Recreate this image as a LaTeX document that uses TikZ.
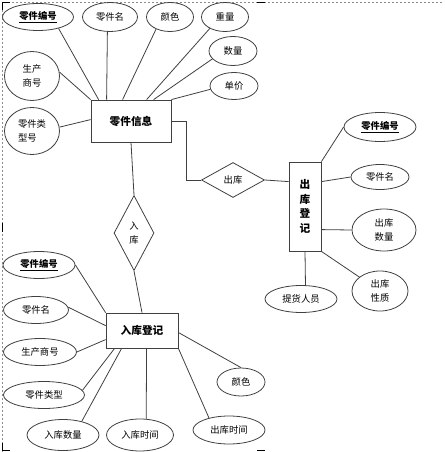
\documentclass[tikz,border=0pt]{standalone}
\usepackage{fontspec}
\setmainfont{Noto Sans CJK SC}
\usetikzlibrary{shapes.geometric,calc}
\begin{document}
\begin{tikzpicture}[x=0.75pt,y=-0.75pt,
  conn/.style={draw=black!75,line width=0.6pt},
  ell/.style 2 args={ellipse,draw=black!75,line width=0.6pt,minimum width=#1*0.75pt,minimum height=#2*0.75pt,inner sep=0pt,font=\fontsize{7pt}{9pt}\selectfont},
  ent/.style 2 args={rectangle,draw=black!75,line width=0.6pt,minimum width=#1*0.75pt,minimum height=#2*0.75pt,inner sep=0pt,font=\bfseries\fontsize{8pt}{11pt}\selectfont},
  rel/.style 2 args={diamond,draw=black!75,line width=0.6pt,minimum width=#1*0.75pt,minimum height=#2*0.75pt,inner sep=0pt,font=\fontsize{7pt}{11pt}\selectfont},
  handle/.style={draw=black,line width=1.2pt},
  frame/.style={draw=black!45,line width=0.4pt,dash pattern=on 1.5pt off 1.5pt}]
\useasboundingbox (0,0) rectangle (444,452);
% frame
\draw[frame] (2,452) -- (2,2) -- (444,2);
\draw[handle] (2.5,10) -- (2.5,2.5) -- (10,2.5);
\draw[handle] (2.5,443) -- (2.5,450.5) -- (10,450.5);
\draw[handle] (2.5,223) -- (2.5,232);
\draw[handle] (257,2.5) -- (265,2.5);
\draw[handle] (257,450.5) -- (265,450.5);

% entities
\node[ent={80}{42}] (info) at (131,121) {零件信息};
\node[ent={72}{35}] (inreg) at (142,330.5) {入库登记};
\node[ent={32}{89},align=center] (outreg) at (305,206.5) {出\\库\\登\\记};

% relationships
\node[rel={40}{75},align=center] (din) at (134,233) {入\\库};
\node[rel={63}{35}] (dout) at (233,180) {出库};

% attributes of info
\node[ell={71}{27}] (a1) at (38,17) {\bfseries\underline{零件编号}};
\node[ell={55}{29}] (a2) at (110,17) {零件名};
\node[ell={47}{29}] (a3) at (170,17) {颜色};
\node[ell={47}{29}] (a4) at (225,17) {重量};
\node[ell={48}{29}] (a5) at (233,51) {数量};
\node[ell={48}{27}] (a6) at (234,86) {单价};
\node[ell={55}{49},align=left,font=\fontsize{7pt}{10pt}\selectfont] (a7) at (32,76) {生产\\商号};
\node[ell={55}{47},align=left,font=\fontsize{7pt}{10pt}\selectfont] (a8) at (32,131) {零件类\\型号};

% attributes of outreg
\node[ell={72}{29}] (b1) at (380,127) {\bfseries\underline{零件编号}};
\node[ell={58}{25}] (b2) at (380,177) {零件名};
\node[ell={64}{42},align=left,font=\fontsize{7pt}{11pt}\selectfont] (b3) at (384,230) {出库\\数量};
\node[ell={56}{40},align=left,font=\fontsize{7pt}{11pt}\selectfont] (b4) at (380,291) {出库\\性质};
\node[ell={72}{27}] (b5) at (301,299) {提货人员};

% attributes of inreg
\node[ell={72}{27}] (c1) at (39,265) {\bfseries\underline{零件编号}};
\node[ell={65}{27}] (c2) at (36,310) {零件名};
\node[ell={73}{27}] (c3) at (40,352) {生产商号};
\node[ell={81}{27}] (c4) at (44,395) {零件类型};
\node[ell={72}{31}] (c5) at (63,435) {入库数量};
\node[ell={67}{32}] (c6) at (140,435) {入库时间};
\node[ell={72}{28}] (c7) at (229,430) {出库时间};
\node[ell={48}{28}] (c8) at (241,382) {颜色};

% connectors: info
\draw[conn] (a1.-29) -- ($(info.north west)+(8,0)$);
\draw[conn] (a2.-100) -- ($(info.north west)+(16,0)$);
\draw[conn] (a3.-139) -- ($(info.north west)+(32,0)$);
\draw[conn] (a4.-143) -- ($(info.north west)+(56,0)$);
\draw[conn] (a5.-159) -- ($(info.north west)+(63,0)$);
\draw[conn] (a6.-172) -- (info.north east);
\draw[conn] (a7.8) -- (info.north west);
\draw[conn] (a8.8) -- ($(info.north west)+(0,20)$);

% relationships
\draw[conn] (info.south) -- (din.north);
\draw[conn] (din.south) -- (inreg.north);
\draw[conn] (info.east) -- ++(15,0) |- (dout.west);
\draw[conn] (dout.east) -- ($(outreg.north west)+(0,20)$);

% connectors: outreg
\draw[conn] (b1.west) -- (outreg.north east);
\draw[conn] (b2.west) -- ($(outreg.north east)+(0,20)$);
\draw[conn] (b3.west) -- ($(outreg.north east)+(0,68)$);
\draw[conn] (b4.146) -- (outreg.south east);
\draw[conn] (b5.72) -- (outreg.south);

% connectors: inreg
\draw[conn] (c1.east) -- (inreg.north west);
\draw[conn] (c2.5) -- ($(inreg.north west)+(0,13)$);
\draw[conn] (c3.east) -- ($(inreg.north west)+(0,27)$);
\draw[conn] (c4.7) -- ($(inreg.south west)+(9,0)$);
\draw[conn] (c5.36) -- ($(inreg.south west)+(16,0)$);
\draw[conn] (c6.69) -- ($(inreg.south west)+(41,0)$);
\draw[conn] (c7.149) -- (inreg.south east);
\draw[conn] (c8.north) -- ($(inreg.east)+(0,2)$);
\end{tikzpicture}
\end{document}
